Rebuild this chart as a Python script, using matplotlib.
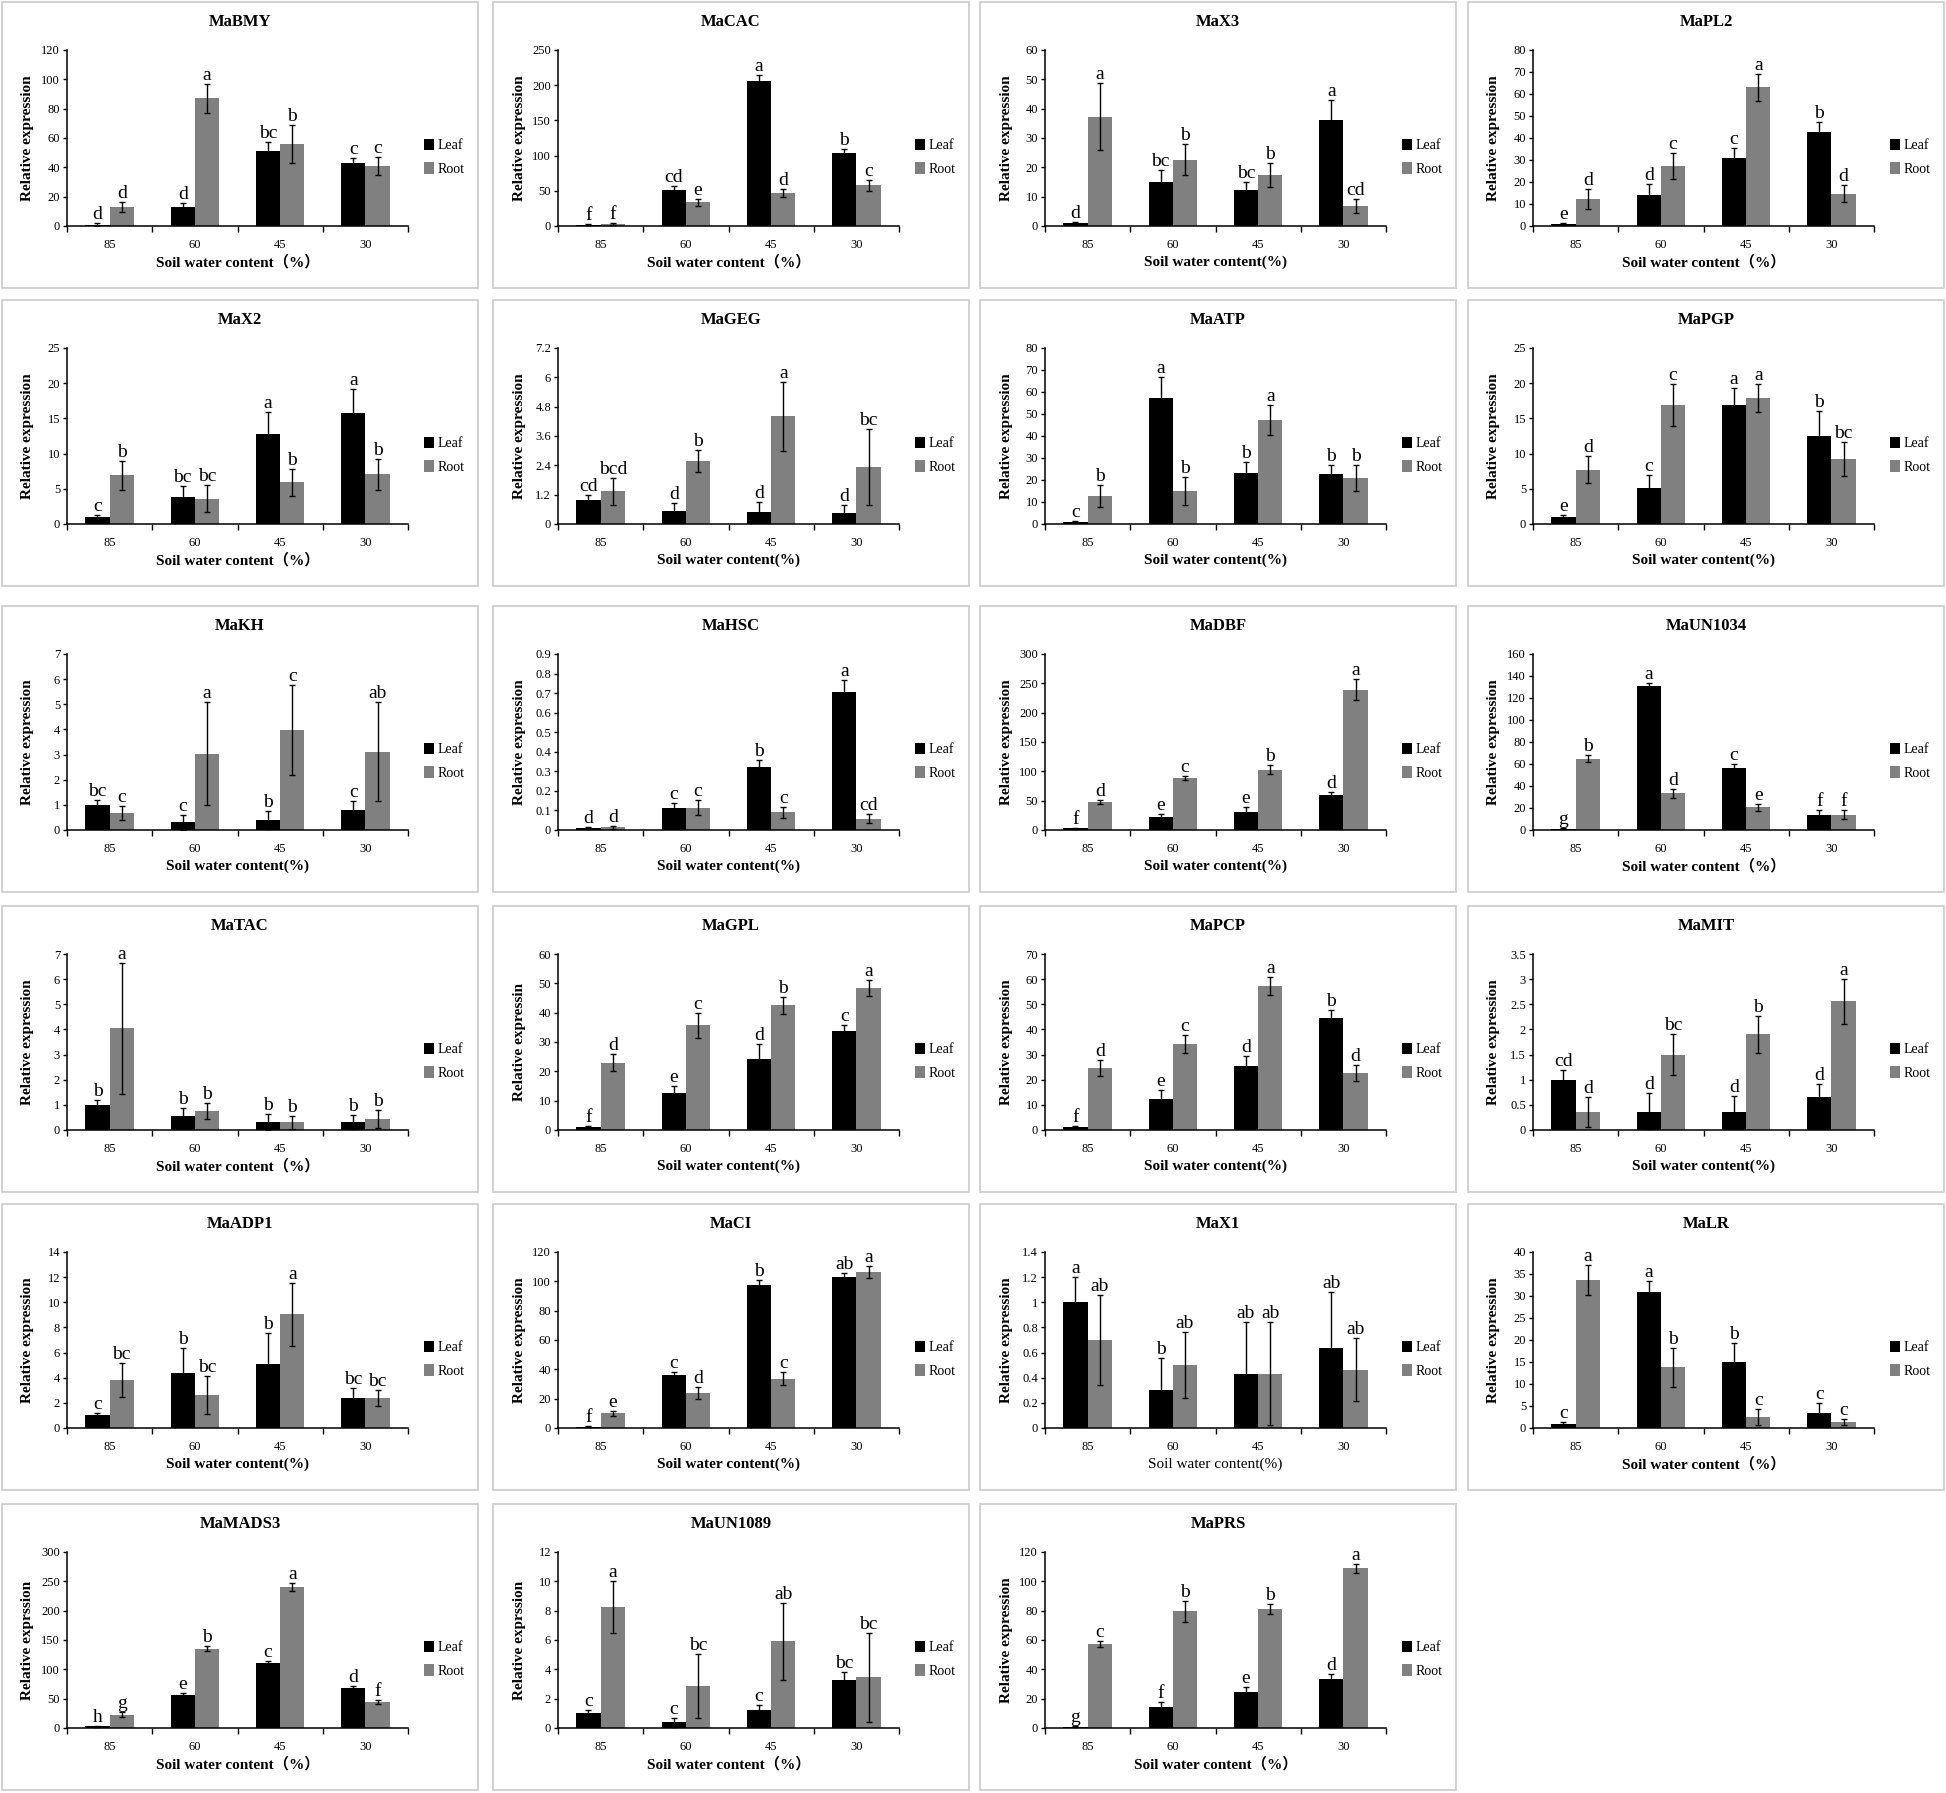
import matplotlib
matplotlib.use('Agg')
import matplotlib.pyplot as plt
from matplotlib.patches import Rectangle
from matplotlib.ticker import FixedLocator, FuncFormatter
import numpy as np

plt.rcParams['font.family'] = ['Liberation Serif', 'Noto Sans CJK SC']

categories = ['85', '60', '45', '30']
series = ['Leaf', 'Root']

genes = ['MaBMY', 'MaCAC', 'MaX3', 'MaPL2',
         'MaX2', 'MaGEG', 'MaATP', 'MaPGP',
         'MaKH', 'MaHSC', 'MaDBF', 'MaUN1034',
         'MaTAC', 'MaGPL', 'MaPCP', 'MaMIT',
         'MaADP1', 'MaCI', 'MaX1', 'MaLR',
         'MaMADS3', 'MaUN1089', 'MaPRS']

y_max = [120, 250, 60, 80,
         25, 7.2, 80, 25,
         7, 0.9, 300, 160,
         7, 60, 70, 3.5,
         14, 120, 1.4, 40,
         300, 12, 120]
y_step = [20, 50, 10, 10,
          5, 1.2, 10, 5,
          1, 0.1, 50, 20,
          1, 10, 10, 0.5,
          2, 20, 0.2, 5,
          50, 2, 20]

leaf_mean = [
    [1, 13, 51, 43], [2, 51, 206, 104], [1, 15, 12.3, 36], [1, 14.3, 31, 42.6],
    [1, 3.8, 12.8, 15.8], [1.0, 0.55, 0.5, 0.47], [0.8, 57.2, 23, 22.7], [1, 5.1, 16.9, 12.5],
    [1.0, 0.3, 0.4, 0.8], [0.01, 0.11, 0.32, 0.705], [3, 22, 31, 59], [1, 131, 56, 13.5],
    [1.0, 0.57, 0.32, 0.32], [1, 12.6, 24.2, 33.7], [1, 12.5, 25.4, 44.6], [1.0, 0.36, 0.36, 0.66],
    [1.0, 4.4, 5.1, 2.35], [1, 36, 97.5, 103], [1.0, 0.3, 0.43, 0.635], [1, 30.8, 15, 3.4],
    [3, 57, 110, 68], [1.0, 0.4, 1.25, 3.3], [1, 14.5, 24.5, 33.7]]
leaf_err = [
    [1, 3, 6, 3.5], [1, 6, 8, 6], [0.5, 4.2, 2.8, 6.8], [0.5, 4.7, 4.3, 4.5],
    [0.3, 1.6, 3.1, 3.4], [0.2, 0.3, 0.4, 0.3], [0.5, 9.5, 5, 4], [0.3, 1.8, 2.4, 3.6],
    [0.2, 0.3, 0.37, 0.37], [0.005, 0.03, 0.038, 0.06], [1, 5, 9, 5], [0.5, 3, 4, 4.5],
    [0.2, 0.3, 0.33, 0.28], [0.4, 2.5, 5, 2.2], [0.4, 3.6, 4, 3.2], [0.2, 0.38, 0.31, 0.26],
    [0.2, 2.0, 2.45, 0.8], [0.5, 2, 3.5, 3], [0.2, 0.26, 0.41, 0.45], [0.3, 2.6, 4.3, 2.2],
    [1, 3, 3.5, 4], [0.25, 0.3, 0.35, 0.55], [0.5, 3.5, 3.5, 3]]
root_mean = [
    [13, 87, 56, 41], [3, 34, 47, 58], [37.3, 22.6, 17.4, 6.7], [12.3, 27.3, 63, 14.6],
    [6.9, 3.6, 5.9, 7.1], [1.33, 2.58, 4.4, 2.33], [12.6, 15, 47.3, 20.8], [7.7, 16.9, 17.9, 9.2],
    [0.68, 3.03, 3.97, 3.12], [0.015, 0.115, 0.09, 0.058], [47, 89, 103, 239], [65, 33.5, 20.5, 14],
    [4.05, 0.77, 0.3, 0.42], [23, 35.7, 42.6, 48.4], [24.6, 34.2, 57.3, 22.6], [0.36, 1.5, 1.9, 2.56],
    [3.8, 2.6, 9.05, 2.4], [10, 23.8, 33.7, 106.3], [0.7, 0.5, 0.43, 0.465], [33.7, 13.8, 2.5, 1.4],
    [23, 135, 241, 44], [8.25, 2.85, 5.9, 3.45], [57, 79.5, 81.3, 109]]
root_err = [
    [3.5, 10, 13, 6], [1, 5, 6, 8], [11.5, 5.3, 4.2, 2.4], [4.5, 5.8, 6, 3.9],
    [2, 1.9, 1.9, 2.2], [0.55, 0.45, 1.4, 1.55], [5, 6.5, 6.8, 6], [1.9, 3, 2, 2.4],
    [0.27, 2.05, 1.78, 1.97], [0.008, 0.04, 0.028, 0.022], [3.5, 3, 7, 18], [3.5, 4, 3.5, 4],
    [2.6, 0.32, 0.27, 0.36], [2.9, 4.3, 2.9, 2.6], [3.3, 3.4, 3.5, 3.1], [0.3, 0.4, 0.36, 0.45],
    [1.35, 1.5, 2.5, 0.65], [1.5, 4, 4.2, 4], [0.36, 0.265, 0.41, 0.25], [3.4, 4.4, 1.8, 0.7],
    [5, 4, 7, 3.5], [1.75, 2.2, 2.6, 3.05], [2, 7, 3.5, 3]]
leaf_sig = [
    ['d', 'd', 'bc', 'c'], ['f', 'cd', 'a', 'b'], ['d', 'bc', 'bc', 'a'], ['e', 'd', 'c', 'b'],
    ['c', 'bc', 'a', 'a'], ['cd', 'd', 'd', 'd'], ['c', 'a', 'b', 'b'], ['e', 'c', 'a', 'b'],
    ['bc', 'c', 'b', 'c'], ['d', 'c', 'b', 'a'], ['f', 'e', 'e', 'd'], ['g', 'a', 'c', 'f'],
    ['b', 'b', 'b', 'b'], ['f', 'e', 'd', 'c'], ['f', 'e', 'd', 'b'], ['cd', 'd', 'd', 'd'],
    ['c', 'b', 'b', 'bc'], ['f', 'c', 'b', 'ab'], ['a', 'b', 'ab', 'ab'], ['c', 'a', 'b', 'c'],
    ['h', 'e', 'c', 'd'], ['c', 'c', 'c', 'bc'], ['g', 'f', 'e', 'd']]
root_sig = [
    ['d', 'a', 'b', 'c'], ['f', 'e', 'd', 'c'], ['a', 'b', 'b', 'cd'], ['d', 'c', 'a', 'd'],
    ['b', 'bc', 'b', 'b'], ['bcd', 'b', 'a', 'bc'], ['b', 'b', 'a', 'b'], ['d', 'c', 'a', 'bc'],
    ['c', 'a', 'c', 'ab'], ['d', 'c', 'c', 'cd'], ['d', 'c', 'b', 'a'], ['b', 'd', 'e', 'f'],
    ['a', 'b', 'b', 'b'], ['d', 'c', 'b', 'a'], ['d', 'c', 'a', 'd'], ['d', 'bc', 'b', 'a'],
    ['bc', 'bc', 'a', 'bc'], ['e', 'd', 'c', 'a'], ['ab', 'ab', 'ab', 'ab'], ['a', 'b', 'c', 'c'],
    ['g', 'b', 'a', 'f'], ['a', 'bc', 'ab', 'bc'], ['c', 'b', 'b', 'a']]

XL_FW = 'Soil water content（%）'
XL_HW = 'Soil water content(%)'
x_labels = [XL_FW, XL_FW, XL_HW, XL_FW,
            XL_FW, XL_HW, XL_HW, XL_HW,
            XL_HW, XL_HW, XL_HW, XL_FW,
            XL_FW, XL_HW, XL_HW, XL_HW,
            XL_HW, XL_HW, XL_HW, XL_FW,
            XL_FW, XL_FW, XL_FW]
x_label_bold = [True] * 18 + [False] + [True] * 4
y_labels = ['Relative expression'] * 13 + ['Relative expressin'] + ['Relative expression'] * 6 + \
           ['Relative exprssion', 'Relative exprssion', 'Relative expression']

LEAF_COLOR = '#000000'
ROOT_COLOR = '#808080'

W, H = 1946, 1793
fig = plt.figure(figsize=(W / 100, H / 100), dpi=100)

col_x = [2, 493, 980, 1468]
row_y = [2, 300, 606, 906, 1204, 1504]
PW, PH = 476, 286


def fx(px):
    return px / W


def fy(py):
    return 1 - py / H


def fmt(v, pos):
    return '{:g}'.format(round(v, 6))


bw = 0.285
x = np.arange(len(categories))

for i, g in enumerate(genes):
    r, c = divmod(i, 4)
    px, py = col_x[c], row_y[r]
    # panel frame
    fig.patches.append(Rectangle((fx(px), fy(py + PH)), PW / W, PH / H,
                                 transform=fig.transFigure, fill=False,
                                 edgecolor='#cfcfcf', linewidth=1.3))
    ax_l, ax_r = px + 65, px + 406
    ax_t, ax_b = py + 48, py + 224
    ax = fig.add_axes([fx(ax_l), fy(ax_b), (ax_r - ax_l) / W, (ax_b - ax_t) / H])

    b1 = ax.bar(x - bw / 2, leaf_mean[i], bw, color=LEAF_COLOR, label=series[0],
                yerr=leaf_err[i], ecolor='black', capsize=2.5,
                error_kw=dict(elinewidth=1.0, capthick=1.0))
    b2 = ax.bar(x + bw / 2, root_mean[i], bw, color=ROOT_COLOR, label=series[1],
                yerr=root_err[i], ecolor='black', capsize=2.5,
                error_kw=dict(elinewidth=1.0, capthick=1.0))

    for j in range(len(categories)):
        ax.annotate(leaf_sig[i][j], (x[j] - bw / 2, leaf_mean[i][j] + leaf_err[i][j]),
                    xytext=(0, 0), textcoords='offset points', ha='center', va='bottom',
                    fontsize=14)
        ax.annotate(root_sig[i][j], (x[j] + bw / 2, root_mean[i][j] + root_err[i][j]),
                    xytext=(0, 0), textcoords='offset points', ha='center', va='bottom',
                    fontsize=14)

    ax.set_xlim(-0.5, len(categories) - 0.5)
    ax.set_ylim(0, y_max[i])
    ax.yaxis.set_major_locator(FixedLocator(np.arange(0, y_max[i] + y_step[i] / 2, y_step[i])))
    ax.yaxis.set_major_formatter(FuncFormatter(fmt))
    ax.set_xticks(x)
    ax.set_xticklabels(categories)
    ax.xaxis.set_minor_locator(FixedLocator(np.arange(-0.5, len(categories), 1.0)))
    ax.tick_params(axis='x', which='major', length=0, pad=9, labelsize=9)
    ax.tick_params(axis='x', which='minor', length=4, width=1, direction='out')
    ax.tick_params(axis='y', which='major', length=3, width=1, direction='out', pad=2, labelsize=9)
    for s in ['top', 'right']:
        ax.spines[s].set_visible(False)
    for s in ['left', 'bottom']:
        ax.spines[s].set_linewidth(1.1)
        ax.spines[s].set_color('black')

    leg = ax.legend(loc='center left', bbox_to_anchor=(1.03, 0.39), frameon=False,
                    fontsize=10, handlelength=0.7, handleheight=0.9, handletextpad=0.3,
                    labelspacing=0.7, borderaxespad=0)

    fig.text(fx(px + PW * 0.5), fy(py + 20), g, ha='center', va='center',
             fontsize=12, fontweight='bold')
    fig.text(fx((ax_l + ax_r) / 2), fy(py + 260), x_labels[i], ha='center', va='center',
             fontsize=11, fontweight='bold' if x_label_bold[i] else 'normal')
    fig.text(fx(px + 26), fy((ax_t + ax_b) / 2), y_labels[i], ha='center', va='center',
             rotation=90, fontsize=11, fontweight='bold')

fig.savefig('out.png', dpi=100, facecolor='white')
